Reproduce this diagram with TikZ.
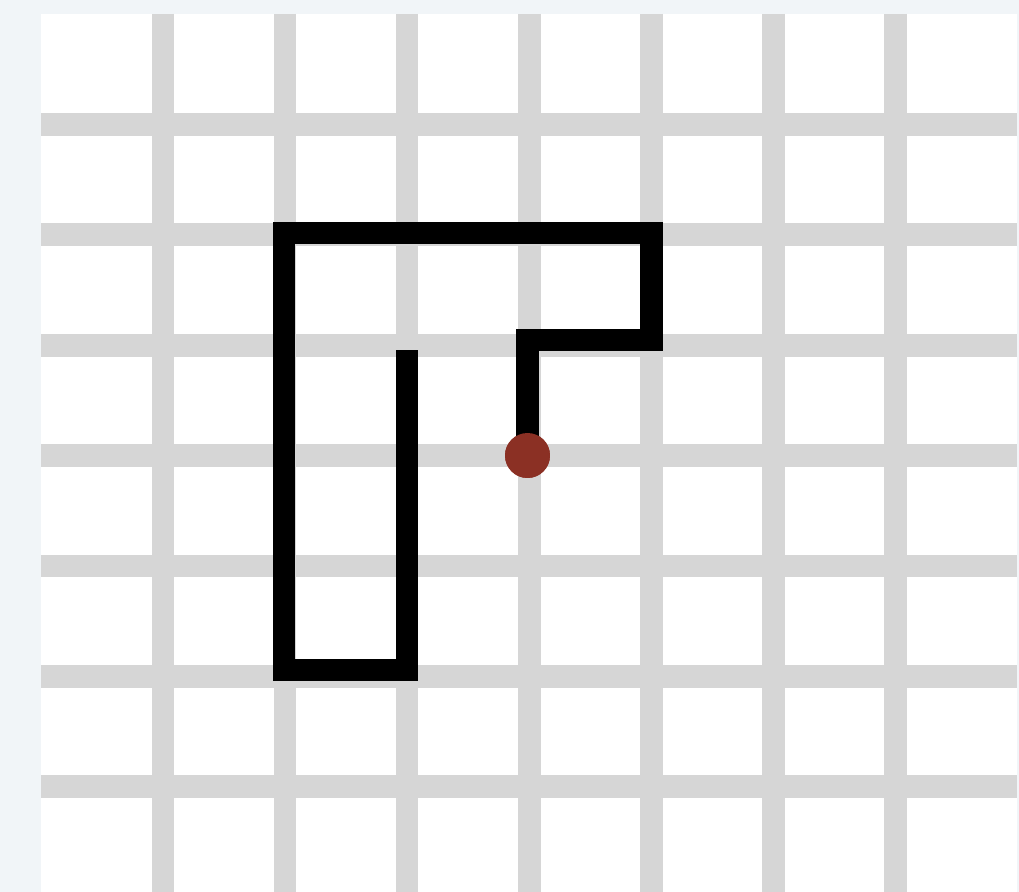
\documentclass[tikz,border=0pt]{standalone}
\usepackage{tikz}
\definecolor{pagebg}{RGB}{241,245,248}
\definecolor{gridgray}{RGB}{214,214,214}
\definecolor{markred}{RGB}{139,48,36}

\begin{document}
\begin{tikzpicture}[
    x=0.02cm, y=-0.02cm,
    gridline/.style={gridgray, line width=0.46cm},
    trail/.style={black, line width=0.46cm, line join=miter},
    marker/.style={circle, fill=markred, minimum size=0.9cm, inner sep=0pt}
]
\fill[pagebg] (0,0) rectangle (1019,892);
\useasboundingbox (0,0) rectangle (1019,892);
\fill[white] (41,14) rectangle (1017,892);

% Grid
\foreach \i in {0,...,6} {
    \draw[gridline] ({163+122*\i},14) -- ({163+122*\i},892);
    \draw[gridline] (41,{124.4+110.4*\i}) -- (1017,{124.4+110.4*\i});
}

% Trail
\coordinate (start) at (407,350);
\coordinate (c1) at (407,670);
\coordinate (c2) at (284,670);
\coordinate (c3) at (284,233);
\coordinate (c4) at (651,233);
\coordinate (c5) at (651,340);
\coordinate (c6) at (527.5,340);
\node[marker] (head) at (527.5,455.5) {};
\draw[trail] (start) -- (c1) -- (c2) -- (c3) -- (c4) -- (c5) -- (c6) -- (head.center);
\node[marker] at (head) {};
\end{tikzpicture}
\end{document}
